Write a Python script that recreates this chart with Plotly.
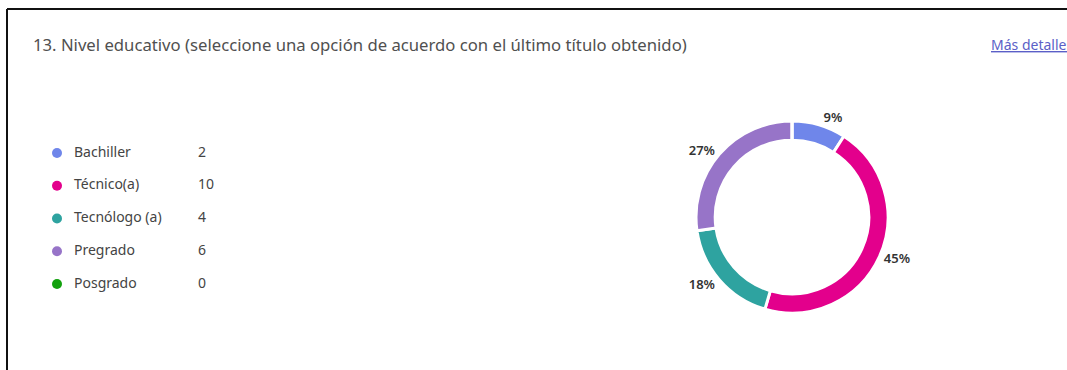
import plotly.graph_objects as go

# Survey question 13: education level, response counts per option
categories = ["Bachiller", "Técnico(a)", "Tecnólogo (a)", "Pregrado", "Posgrado"]
counts = [2, 10, 4, 6, 0]
colors = ["#6f86ea", "#e3008c", "#2ea3a0", "#9774c8", "#13a10e"]
question = "13. Nivel educativo (seleccione una opción de acuerdo con el último título obtenido)"
link_text = "Más detalles"

W, H = 1067, 370
FONT = "Noto Sans"

fig = go.Figure()

# Donut: starts at 12 o'clock and runs clockwise, white separators between slices.
# Options with no responses get no percentage label.
pct_labels = ["%{percent:.0%}" if v > 0 else "" for v in counts]
fig.add_trace(go.Pie(
    labels=categories,
    values=counts,
    marker=dict(colors=colors, line=dict(color="white", width=3)),
    hole=0.80,
    sort=False,
    direction="clockwise",
    rotation=0,
    textposition="outside",
    texttemplate=pct_labels,
    textfont=dict(family=FONT, size=13, color="#333333", weight=600),
    showlegend=False,
    hoverinfo="label+value+percent",
    domain=dict(x=[696 / W, 888 / W], y=[(153 - 96) / H, (153 + 96) / H]),
))

# Legend list on the left: dot, option name and count per row
rows = list(range(len(categories)))
fig.add_trace(go.Scatter(
    x=[0] * len(categories), y=rows,
    mode="markers",
    marker=dict(color=colors, size=10),
    hoverinfo="skip", showlegend=False,
    xaxis="x", yaxis="y", cliponaxis=False,
))
fig.add_trace(go.Scatter(
    x=[17] * len(categories), y=rows,
    mode="text",
    text=categories,
    textposition="middle right",
    textfont=dict(family=FONT, size=14, color="#444444"),
    hoverinfo="skip", showlegend=False,
    xaxis="x", yaxis="y", cliponaxis=False,
))
fig.add_trace(go.Scatter(
    x=[141] * len(categories), y=rows,
    mode="text",
    text=[str(v) for v in counts],
    textposition="middle right",
    textfont=dict(family=FONT, size=14, color="#444444"),
    hoverinfo="skip", showlegend=False,
    xaxis="x", yaxis="y", cliponaxis=False,
))

fig.update_layout(
    width=W, height=H,
    margin=dict(l=0, r=0, t=0, b=0),
    paper_bgcolor="white",
    plot_bgcolor="white",
    xaxis=dict(domain=[57 / W, 257 / W], range=[0, 200], visible=False, fixedrange=True),
    yaxis=dict(domain=[(H - 284) / H, (H - 153) / H], range=[4, 0], visible=False, fixedrange=True),
    annotations=[
        dict(text=question, x=31 / W, y=(H - 45) / H, xref="paper", yref="paper",
             xanchor="left", yanchor="middle", showarrow=False,
             font=dict(family=FONT, size=16.7, color="#505050")),
        # link sits at the right edge of the card and runs past it
        dict(text="<u>" + link_text + "</u>", x=989 / W, y=(H - 45) / H, xref="paper", yref="paper",
             xanchor="left", yanchor="middle", showarrow=False,
             font=dict(family=FONT, size=14, color="#5b5fc7")),
    ],
    shapes=[
        # dark frame edges along the top and left
        dict(type="line", xref="paper", yref="paper", x0=7 / W, x1=1, y0=(H - 9) / H, y1=(H - 9) / H,
             line=dict(color="#111111", width=2)),
        dict(type="line", xref="paper", yref="paper", x0=7 / W, x1=7 / W, y0=0, y1=(H - 9) / H,
             line=dict(color="#111111", width=2)),
    ],
)

fig.write_html("out.html")
